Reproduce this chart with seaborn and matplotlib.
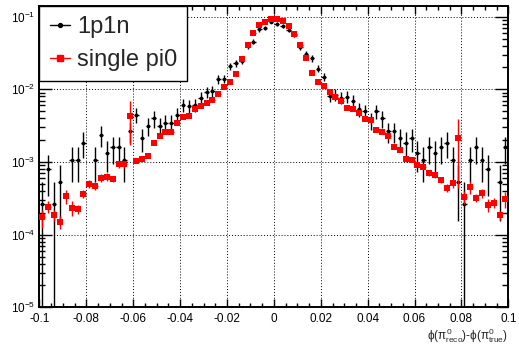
import numpy as np
import pandas as pd
import matplotlib
matplotlib.use("Agg")
import matplotlib.pyplot as plt
import seaborn as sns
from matplotlib.lines import Line2D
from matplotlib.ticker import MultipleLocator, LogLocator, NullFormatter, FixedLocator, FixedFormatter

# Histogram binning of the phi residual
bin_lo, bin_hi, n_bins = -0.1, 0.1, 80

# 1p1n sample: raw entries per bin (histogram is normalised to unit area)
counts_1p1n = [
    1, 3, 1, 2, 0, 4, 4, 7, 0, 4,
    9, 5, 6, 6, 4, 10, 17, 8, 12, 15,
    12, 13, 13, 17, 23, 22, 23, 29, 35, 36,
    52, 53, 79, 87, 93, 150, 171, 252, 262, 323,
    300, 284, 246, 212, 143, 117, 101, 73, 56, 31,
    32, 29, 30, 26, 20, 19, 14, 19, 15, 10,
    10, 8, 7, 8, 5, 4, 6, 5, 6, 7,
    4, 2, 1, 4, 6, 4, 3, 0, 2, 6,
]
n_entries_1p1n = 3781

# single pi0 sample: normalised bin contents
single_pi0 = [
    1.73e-4, 2.43e-4, 1.86e-4, 1.51e-4, 3.40e-4, 2.35e-4, 2.27e-4, 3.66e-4, 5.02e-4, 4.67e-4,
    6.03e-4, 6.22e-4, 5.83e-4, 9.29e-4, 9.29e-4, 4.34e-3, 1.04e-3, 1.11e-3, 1.22e-3, 1.83e-3,
    2.30e-3, 2.59e-3, 2.59e-3, 3.47e-3, 4.21e-3, 4.33e-3, 5.30e-3, 5.94e-3, 6.53e-3, 7.20e-3,
    8.62e-3, 1.08e-2, 1.27e-2, 1.64e-2, 2.58e-2, 4.07e-2, 5.97e-2, 7.73e-2, 8.53e-2, 9.29e-2,
    9.29e-2, 8.75e-2, 7.50e-2, 5.78e-2, 4.07e-2, 2.73e-2, 1.69e-2, 1.26e-2, 1.12e-2, 9.29e-3,
    7.93e-3, 6.91e-3, 5.61e-3, 5.40e-3, 4.70e-3, 3.91e-3, 3.83e-3, 2.76e-3, 2.61e-3, 2.29e-3,
    1.61e-3, 1.48e-3, 1.10e-3, 1.07e-3, 9.18e-4, 8.61e-4, 6.98e-4, 6.62e-4, 5.65e-4, 4.43e-4,
    5.06e-4, 2.16e-3, 3.28e-4, 4.53e-4, 3.22e-4, 3.74e-4, 2.56e-4, 2.74e-4, 1.86e-4, 3.10e-4,
]
# relative statistical uncertainty of each single pi0 bin
single_pi0_relerr = [
    0.28, 0.18, 0.17, 0.20, 0.22, 0.24, 0.14, 0.14, 0.13, 0.12,
    0.12, 0.12, 0.10, 0.10, 0.10, 0.60, 0.08, 0.08, 0.08, 0.07,
    0.06, 0.06, 0.06, 0.05, 0.05, 0.05, 0.05, 0.04, 0.04, 0.04,
    0.04, 0.03, 0.03, 0.03, 0.03, 0.02, 0.02, 0.02, 0.02, 0.02,
    0.02, 0.02, 0.02, 0.02, 0.02, 0.03, 0.03, 0.03, 0.03, 0.04,
    0.04, 0.04, 0.04, 0.05, 0.05, 0.05, 0.05, 0.06, 0.06, 0.06,
    0.07, 0.07, 0.08, 0.08, 0.08, 0.08, 0.08, 0.08, 0.09, 0.12,
    0.12, 0.80, 0.20, 0.20, 0.13, 0.14, 0.20, 0.16, 0.15, 0.25,
]

series_names = ["1p1n", "single pi0"]
series_colors = {"1p1n": "black", "single pi0": "red"}

x_ticks = [-0.1, -0.08, -0.06, -0.04, -0.02, 0.0, 0.02, 0.04, 0.06, 0.08, 0.1]
x_tick_labels = ["-0.1", "-0.08", "-0.06", "-0.04", "-0.02", "0",
                 "0.02", "0.04", "0.06", "0.08", "0.1"]
y_ticks = [1e-5, 1e-4, 1e-3, 1e-2, 1e-1]
y_tick_labels = [r"$10^{-5}$", r"$10^{-4}$", r"$10^{-3}$", r"$10^{-2}$", r"$10^{-1}$"]
y_range = (1e-5, 0.1416)
x_title = r"$\phi(\pi^{0}_{\mathrm{reco}})$-$\phi(\pi^{0}_{\mathrm{true}})$"

# ---------------------------------------------------------------------------
sns.set_style("ticks")
plt.rcParams["font.family"] = ["Liberation Sans", "DejaVu Sans"]
plt.rcParams["mathtext.fontset"] = "custom"
plt.rcParams["mathtext.rm"] = "Liberation Sans"
plt.rcParams["mathtext.it"] = "Liberation Sans"
plt.rcParams["mathtext.bf"] = "Liberation Sans:bold"
plt.rcParams["axes.unicode_minus"] = False

edges = np.linspace(bin_lo, bin_hi, n_bins + 1)
centers = 0.5 * (edges[:-1] + edges[1:])
half_w = 0.4 * (edges[1] - edges[0])

counts = np.asarray(counts_1p1n, dtype=float)
df_a = pd.DataFrame({
    "x": centers,
    "y": counts / n_entries_1p1n,
    "err": np.sqrt(counts) / n_entries_1p1n,
    "sample": series_names[0],
})
df_b = pd.DataFrame({
    "x": centers,
    "y": np.asarray(single_pi0),
    "err": np.asarray(single_pi0) * np.asarray(single_pi0_relerr),
    "sample": series_names[1],
})
df = pd.concat([df_a, df_b], ignore_index=True)
df = df[df["y"] > 0]

fig = plt.figure(figsize=(5.19, 3.51), dpi=100)
ax = fig.add_axes([0.0761, 0.1245, 0.9033, 0.8593])
ax.set_facecolor("white")
ax.set_yscale("log", nonpositive="clip")

marker_style = {"1p1n": dict(marker="o", s=7), "single pi0": dict(marker="s", s=15)}
for i, name in enumerate(series_names):
    sub = df[df["sample"] == name]
    col = series_colors[name]
    ax.errorbar(sub["x"], sub["y"], yerr=sub["err"], xerr=half_w, fmt="none",
                ecolor=col, elinewidth=1.0, capsize=0, zorder=2 + 2 * i)
    sns.scatterplot(data=sub, x="x", y="y", color=col, linewidth=0,
                    ax=ax, legend=False, zorder=3 + 2 * i, **marker_style[name])

ax.set_xlim(bin_lo, bin_hi)
ax.set_ylim(*y_range)

ax.xaxis.set_major_locator(FixedLocator(x_ticks))
ax.xaxis.set_major_formatter(FixedFormatter(x_tick_labels))
ax.xaxis.set_minor_locator(MultipleLocator(0.005))
ax.yaxis.set_major_locator(FixedLocator(y_ticks))
ax.yaxis.set_major_formatter(FixedFormatter(y_tick_labels))
ax.yaxis.set_minor_locator(LogLocator(base=10, subs=np.arange(2, 10)))
ax.yaxis.set_minor_formatter(NullFormatter())

ax.tick_params(which="both", direction="in", top=True, right=True,
               color="black", labelcolor="black", labelsize=8.5)
ax.tick_params(axis="x", which="major", length=5.8, width=1.0, pad=4)
ax.tick_params(axis="x", which="minor", length=2.9, width=1.0)
ax.tick_params(axis="y", which="major", length=9.4, width=1.0, pad=3)
ax.tick_params(axis="y", which="minor", length=4.5, width=1.0)

ax.grid(True, which="major", color="black", linestyle=(0, (1, 2)), linewidth=0.7)
ax.set_axisbelow(True)
for sp in ax.spines.values():
    sp.set_color("black")
    sp.set_linewidth(1.4)
    sp.set_visible(True)

ax.set_ylabel("")
ax.set_xlabel(x_title, fontsize=8.5, loc="right")
ax.xaxis.set_label_coords(1.0, -0.064)

handles = [
    Line2D([], [], color="black", marker="o", markersize=2.8, linewidth=1.0),
    Line2D([], [], color="red", marker="s", markersize=3.9, linewidth=1.0),
]
leg = ax.legend(handles, series_names, loc="upper left", bbox_to_anchor=(0, 1),
                borderaxespad=0, frameon=True, fancybox=False, shadow=False,
                edgecolor="black", framealpha=1, fontsize=17,
                handlelength=0.85, handletextpad=0.3, borderpad=0.43,
                labelspacing=0.47)
leg.get_frame().set_linewidth(1.0)
leg.set_zorder(10)

fig.savefig("out.png", dpi=100, facecolor="white")
